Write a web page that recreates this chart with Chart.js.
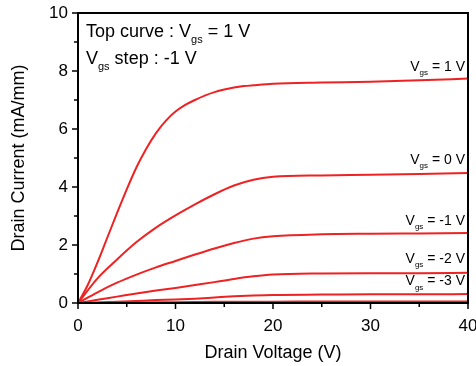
<!DOCTYPE html>
<html>
<head>
<meta charset="utf-8">
<script src="https://cdn.jsdelivr.net/npm/chart.js@4"></script>
<style>
  html, body { margin: 0; padding: 0; background: #fff; }
  #wrap { width: 476px; height: 366px; }
</style>
</head>
<body>
<div id="wrap"><canvas id="ivChart"></canvas></div>
<script>
// Drain voltage sample points (V)
const vdsTop = [0, 1, 2, 3, 4, 5, 6, 7, 8, 9, 10, 11, 12, 13, 14, 15, 16, 17, 18, 20, 25, 30, 35, 40];
const vds = [0, 2, 4, 6, 8, 10, 12, 14, 16, 18, 20, 25, 30, 35, 40];

// Drain current (mA/mm) for each gate voltage
const id_vgs1  = [0, 0.62, 1.4, 2.25, 3.1, 3.92, 4.68, 5.32, 5.86, 6.28, 6.6, 6.83, 7.0, 7.15, 7.27, 7.36, 7.43, 7.48, 7.51, 7.56, 7.6, 7.63, 7.68, 7.74];
const id_vgs0  = [0, 0.85, 1.5, 2.1, 2.6, 3.02, 3.4, 3.75, 4.05, 4.25, 4.35, 4.4, 4.42, 4.45, 4.48];
const id_vgsm1 = [0, 0.37, 0.7, 0.98, 1.23, 1.45, 1.67, 1.88, 2.07, 2.22, 2.3, 2.37, 2.39, 2.4, 2.41];
const id_vgsm2 = [0, 0.11, 0.22, 0.33, 0.43, 0.52, 0.62, 0.72, 0.83, 0.92, 0.98, 1.02, 1.03, 1.03, 1.04];
const id_vgsm3 = [0, 0.02, 0.04, 0.07, 0.1, 0.12, 0.15, 0.19, 0.23, 0.26, 0.28, 0.29, 0.3, 0.3, 0.31];
const id_vgsm4 = [0, 0.01, 0.015, 0.02, 0.025, 0.03, 0.035, 0.04, 0.04, 0.045, 0.045, 0.05, 0.05, 0.05, 0.05];

// curve labels: [gate voltage text, y position in mA/mm]
const curveLabels = [
    ['1 V', 8.0],
    ['0 V', 4.8],
    ['-1 V', 2.7],
    ['-2 V', 1.38],
    ['-3 V', 0.62]
];

const xTicks = [0, 10, 20, 30, 40];
const yTicks = [0, 2, 4, 6, 8, 10];

const FONT = '"Liberation Sans", Arial, sans-serif';
const RED = '#ee2222';

function toPoints(xs, ys) {
    return xs.map((v, i) => ({ x: v, y: ys[i] }));
}

// draw "V" + subscript "gs" + rest, returns total width
function drawVgs(ctx, x, y, rest, size, dryRun) {
    const sub = Math.round(size * 0.6);
    ctx.font = `${size}px ${FONT}`;
    const w1 = ctx.measureText('V').width;
    ctx.font = `${sub}px ${FONT}`;
    const w2 = ctx.measureText('gs').width;
    ctx.font = `${size}px ${FONT}`;
    const w3 = ctx.measureText(rest).width;
    if (dryRun) return w1 + w2 + w3;
    ctx.fillText('V', x, y);
    ctx.font = `${sub}px ${FONT}`;
    ctx.fillText('gs', x + w1, y + size * 0.32);
    ctx.font = `${size}px ${FONT}`;
    ctx.fillText(rest, x + w1 + w2, y);
    return w1 + w2 + w3;
}

// frame, minor/major ticks and text annotations
const decorPlugin = {
    id: 'decor',
    afterDraw(chart) {
        const { ctx, chartArea: a, scales } = chart;
        ctx.save();
        ctx.strokeStyle = '#000';
        ctx.lineWidth = 2;
        ctx.strokeRect(a.left, a.top, a.right - a.left, a.bottom - a.top);

        ctx.lineWidth = 1.5;
        ctx.beginPath();
        for (let v = 0; v <= 40; v += 5) {
            const px = scales.x.getPixelForValue(v);
            const len = v % 10 === 0 ? 6 : 4;
            ctx.moveTo(px, a.bottom);
            ctx.lineTo(px, a.bottom + len);
        }
        for (let v = 0; v <= 10; v += 1) {
            const py = scales.y.getPixelForValue(v);
            const len = v % 2 === 0 ? 6 : 4;
            ctx.moveTo(a.left, py);
            ctx.lineTo(a.left - len, py);
        }
        ctx.stroke();

        ctx.fillStyle = '#000';
        ctx.textBaseline = 'alphabetic';
        ctx.textAlign = 'left';
        // top-left legend text
        ctx.font = `18px ${FONT}`;
        const t = 'Top curve : ';
        ctx.fillText(t, a.left + 8, a.top + 24);
        const tw = ctx.measureText(t).width;
        drawVgs(ctx, a.left + 8 + tw, a.top + 24, ' = 1 V', 18);
        drawVgs(ctx, a.left + 8, a.top + 51, ' step : -1 V', 18);

        // curve labels, right aligned
        const right = scales.x.getPixelForValue(40) - 3;
        curveLabels.forEach(([txt, yv]) => {
            const py = scales.y.getPixelForValue(yv);
            const w = drawVgs(ctx, 0, 0, ' = ' + txt, 14, true);
            drawVgs(ctx, right - w, py, ' = ' + txt, 14);
        });
        ctx.restore();
    }
};

const series = [
    [vdsTop, id_vgs1],
    [vds, id_vgs0],
    [vds, id_vgsm1],
    [vds, id_vgsm2],
    [vds, id_vgsm3],
    [vds, id_vgsm4]
];

new Chart(document.getElementById('ivChart'), {
    type: 'line',
    data: {
        datasets: series.map(([xs, ys]) => ({
            data: toPoints(xs, ys),
            borderColor: RED,
            borderWidth: 2,
            pointRadius: 0,
            fill: false,
            cubicInterpolationMode: 'monotone'
        }))
    },
    options: {
        responsive: true,
        maintainAspectRatio: false,
        animation: false,
        layout: { padding: { top: 13, right: 8, left: 0, bottom: 0 } },
        plugins: {
            legend: { display: false },
            tooltip: { enabled: false }
        },
        scales: {
            x: {
                type: 'linear',
                min: 0,
                max: 40,
                afterBuildTicks: s => { s.ticks = xTicks.map(v => ({ value: v })); },
                grid: { display: false },
                border: { display: false },
                ticks: {
                    color: '#000',
                    font: { family: FONT, size: 17 },
                    padding: 5
                },
                title: {
                    display: true,
                    text: 'Drain Voltage (V)',
                    color: '#000',
                    font: { family: FONT, size: 18 },
                    padding: { top: 4, bottom: 2 }
                },
                afterFit: s => {
                    s.height = 63;
                    s.paddingLeft = 0;
                    s.paddingRight = 0;
                }
            },
            y: {
                min: 0,
                max: 10,
                afterBuildTicks: s => { s.ticks = yTicks.map(v => ({ value: v })); },
                grid: { display: false },
                border: { display: false },
                ticks: {
                    color: '#000',
                    font: { family: FONT, size: 17 },
                    padding: 2
                },
                title: {
                    display: true,
                    text: 'Drain Current (mA/mm)',
                    color: '#000',
                    font: { family: FONT, size: 18 },
                    padding: { top: 8, bottom: 4 }
                },
                afterFit: s => {
                    s.width = 78;
                    s.paddingTop = 0;
                    s.paddingBottom = 0;
                }
            }
        }
    },
    plugins: [decorPlugin]
});
</script>
</body>
</html>
